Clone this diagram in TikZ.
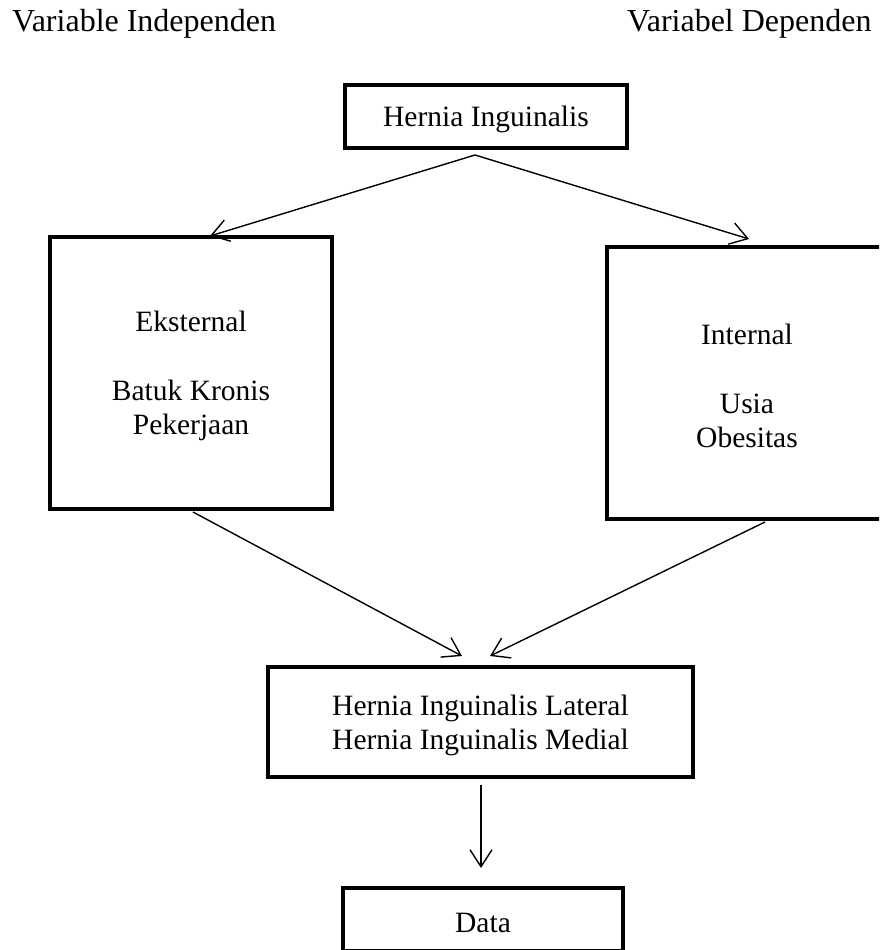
\documentclass[tikz,border=0pt]{standalone}
\usepackage{fontspec}
\setmainfont{Liberation Serif}
\usetikzlibrary{arrows.meta}
\newcommand\myupstrut{\rule{0pt}{27pt}}
\begin{document}
\begin{tikzpicture}[x=1pt,y=-1pt,
  box/.style={draw,line width=4pt,rectangle,inner sep=0pt,align=center,
    font=\fontsize{29.5}{34.5}\selectfont},
  conn/.style={line width=1.4pt,-{Straight Barb[length=17pt,width=22pt,line width=1.4pt]}},
  lbl/.style={anchor=base west,inner sep=0pt,font=\fontsize{32}{36}\selectfont}]
\useasboundingbox (0,0) rectangle (879,950);
\clip (0,0) rectangle (879,950);
\fill[white] (0,0) rectangle (879,950);
\node[lbl] (vi) at (12,32) {Variable Independen};
\node[lbl] (vd) at (627,32) {Variabel Dependen};
\node[box,minimum width=282pt,minimum height=63pt] (top) at (486,116.5) {\myupstrut Hernia Inguinalis};
\node[box,minimum width=282pt,minimum height=272pt] (left) at (191,373) {\myupstrut Eksternal\\[34pt]Batuk Kronis\\Pekerjaan};
\node[box,minimum width=280pt,minimum height=272pt] (right) at (747,383) {\myupstrut Internal\\[34pt]Usia\\Obesitas};
\node[box,minimum width=425pt,minimum height=110pt] (mid) at (480.5,722) {\myupstrut Hernia Inguinalis Lateral\\Hernia Inguinalis Medial};
\node[box,minimum width=280pt,minimum height=63pt] (data) at (483,919.5) {\myupstrut Data};
\coordinate (apex) at (475,155);
\coordinate (ltip) at (210,236);
\coordinate (rtip) at (749,239);
\coordinate (lbot) at (193,512);
\coordinate (rbot) at (765,522);
\coordinate (mtipl) at (462,656);
\coordinate (mtipr) at (490,656);
\coordinate (mbot) at (481,785);
\coordinate (dtip) at (481,868);
\draw[conn] (apex) -- (ltip);
\draw[conn] (apex) -- (rtip);
\draw[conn] (lbot) -- (mtipl);
\draw[conn] (rbot) -- (mtipr);
\draw[conn] (mbot) -- (dtip);
\end{tikzpicture}
\end{document}
